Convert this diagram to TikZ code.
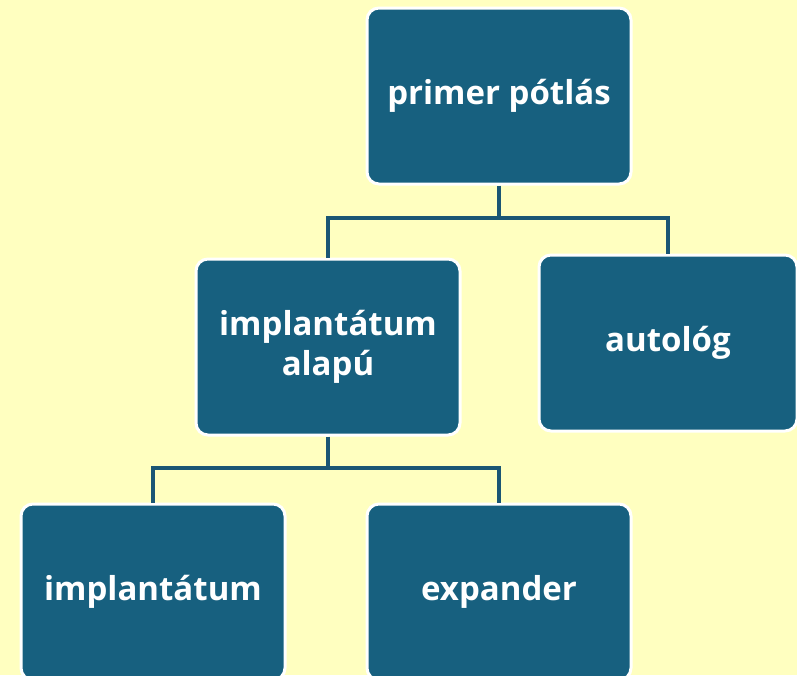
\documentclass[tikz,border=0pt]{standalone}
\usepackage{fontspec}
\setmainfont{Open Sans}
\definecolor{bgyellow}{HTML}{FFFFC0}
\definecolor{boxblue}{HTML}{17607F}
\definecolor{linkblue}{HTML}{1A5674}
\begin{document}
\begin{tikzpicture}[x=1pt, y=-1pt,
    box/.style={draw=white, fill=boxblue, line width=3pt, rounded corners=12pt,
        minimum width=264pt, minimum height=176pt, align=center,
        text=white, font=\fontsize{33}{40}\selectfont\bfseries},
    link/.style={draw=linkblue, line width=3.5pt}]
    \clip (0, 0) rectangle (797, 675);
    \fill[bgyellow] (0, 0) rectangle (797, 675);

    \node[box] (primer) at (499, 96) {primer pótlás};
    \node[box] (alapu) at (328, 347) {implantátum\\alapú};
    \node[box, minimum width=258pt] (autolog) at (668, 343) {autológ};
    \node[box] (implant) at (153, 592) {implantátum};
    \node[box] (expander) at (499, 592) {expander};

    \coordinate (top) at (499, 218);
    \coordinate (mid) at (328, 468);
    \draw[link] (primer.south) -- (top);
    \draw[link] (alapu.north) |- (top) -| (autolog.north);
    \draw[link] (alapu.south) -- (mid);
    \draw[link] (implant.north) |- (mid) -| (expander.north);
\end{tikzpicture}
\end{document}
